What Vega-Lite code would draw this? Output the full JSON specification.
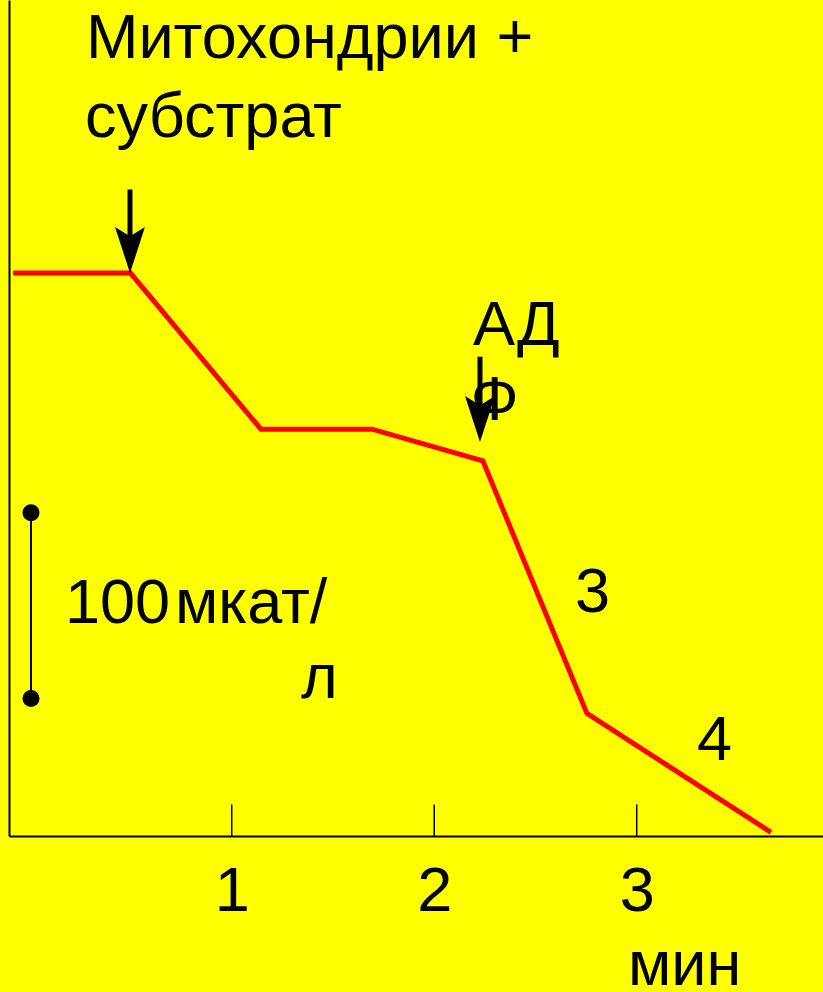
{
  "$schema": "https://vega.github.io/schema/vega-lite/v6.json",
  "width": 814,
  "height": 836,
  "autosize": {"type": "none"},
  "padding": {"left": 9, "top": 0, "right": 0, "bottom": 156},
  "background": "#ffff00",
  "config": {"view": {"stroke": null}, "font": "Liberation Sans"},
  "datasets": {
    "trace": [
      {"t": -0.08, "o2": 303},
      {"t": 0.5, "o2": 303},
      {"t": 1.144, "o2": 219},
      {"t": 1.693, "o2": 219},
      {"t": 2.24, "o2": 202},
      {"t": 2.754, "o2": 66},
      {"t": 3.663, "o2": 2}
    ],
    "ticks": [
      {"t": 1, "y0": 0, "y1": 17},
      {"t": 2, "y0": 0, "y1": 17},
      {"t": 3, "y0": 0, "y1": 17}
    ],
    "arrows": [
      {"t": 0.4975, "top": 348, "bot": 318, "head": 315.4},
      {"t": 2.226, "top": 258, "bot": 228, "head": 224.5}
    ],
    "bar": [
      {"t": 0.0086, "lo": 74, "hi": 174}
    ],
    "dots": [
      {"t": 0.0086, "v": 74},
      {"t": 0.0086, "v": 174}
    ],
    "labels": [
      {"t": 0.28, "y": 418.8, "label": "Митохондрии +"},
      {"t": 0.275, "y": 376.3, "label": "субстрат"},
      {"t": 2.191, "y": 264.3, "label": "АД"},
      {"t": 2.181, "y": 223.9, "label": "Ф"},
      {"t": 2.695, "y": 120.6, "label": "3"},
      {"t": 3.298, "y": 40.9, "label": "4"},
      {"t": 0.1765, "y": 114.7, "label": "100"},
      {"t": 0.72, "y": 114.7, "label": "мкат/"},
      {"t": 1.342, "y": 74.3, "label": "л"},
      {"t": 2.957, "y": -80.3, "label": "мин"}
    ]
  },
  "layer": [
    {
      "data": {"name": "trace"},
      "mark": {"type": "line", "color": "#ff0000", "strokeWidth": 5, "strokeJoin": "miter"},
      "encoding": {
        "x": {
          "field": "t", "type": "quantitative",
          "scale": {"domain": [-0.1, 3.92], "nice": false, "zero": false},
          "axis": {
            "orient": "bottom", "values": [1, 2, 3], "format": "d", "title": null, "grid": false,
            "domain": true, "domainColor": "#000000", "domainWidth": 2,
            "ticks": false, "labelFontSize": 63, "labelFont": "Liberation Sans",
            "labelColor": "#000000", "labelBaseline": "alphabetic", "labelPadding": 74,
            "labelFlush": false, "labelOverlap": false
          }
        },
        "y": {
          "field": "o2", "type": "quantitative",
          "scale": {"domain": [0, 450], "nice": false, "zero": false},
          "axis": {
            "orient": "left", "title": null, "grid": false, "ticks": false, "labels": false,
            "domain": true, "domainColor": "#000000", "domainWidth": 2
          }
        }
      }
    },
    {
      "data": {"name": "ticks"},
      "mark": {"type": "rule", "color": "#000000", "strokeWidth": 1.5},
      "encoding": {
        "x": {"field": "t", "type": "quantitative"},
        "y": {"field": "y0", "type": "quantitative"},
        "y2": {"field": "y1"}
      }
    },
    {
      "data": {"name": "arrows"},
      "mark": {"type": "rule", "color": "#000000", "strokeWidth": 5},
      "encoding": {
        "x": {"field": "t", "type": "quantitative"},
        "y": {"field": "top", "type": "quantitative"},
        "y2": {"field": "bot"}
      }
    },
    {
      "data": {"name": "arrows"},
      "mark": {"type": "point", "shape": "M-0.65,-1L0,-0.6L0.65,-1L0,1Z", "filled": true, "color": "#000000", "opacity": 1, "size": 2116},
      "encoding": {
        "x": {"field": "t", "type": "quantitative"},
        "y": {"field": "head", "type": "quantitative"}
      }
    },
    {
      "data": {"name": "bar"},
      "mark": {"type": "rule", "color": "#000000", "strokeWidth": 2},
      "encoding": {
        "x": {"field": "t", "type": "quantitative"},
        "y": {"field": "lo", "type": "quantitative"},
        "y2": {"field": "hi"}
      }
    },
    {
      "data": {"name": "dots"},
      "mark": {"type": "point", "shape": "circle", "filled": true, "color": "#000000", "opacity": 1, "size": 290},
      "encoding": {
        "x": {"field": "t", "type": "quantitative"},
        "y": {"field": "v", "type": "quantitative"}
      }
    },
    {
      "data": {"name": "labels"},
      "mark": {"type": "text", "align": "left", "baseline": "alphabetic", "fontSize": 63, "font": "Liberation Sans", "color": "#000000"},
      "encoding": {
        "x": {"field": "t", "type": "quantitative"},
        "y": {"field": "y", "type": "quantitative"},
        "text": {"field": "label", "type": "nominal"}
      }
    }
  ]
}
